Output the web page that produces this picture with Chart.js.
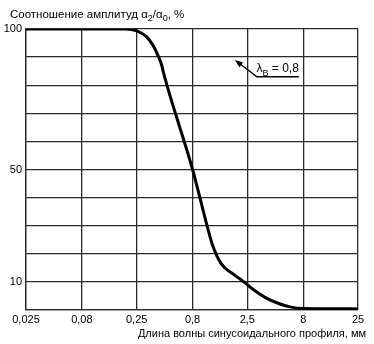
<!DOCTYPE html>
<html>
<head>
<meta charset="utf-8">
<script src="https://cdn.jsdelivr.net/npm/chart.js@4"></script>
<style>
  html, body { margin: 0; padding: 0; background: #fff; }
</style>
</head>
<body>
<canvas id="c" width="374" height="344"></canvas>
<script>
// Wavelength of the sinusoidal profile, mm
const waveLengths = [0.025, 0.2, 0.25, 0.308, 0.351, 0.389, 0.421, 0.435, 0.8, 1.09, 1.2, 1.444, 1.892, 2.33, 2.87, 3.68, 4.73, 6.07, 7.95, 25];
// Amplitude ratio a2/a0, %
const amplitudeRatio = [100, 100, 99.3, 97.2, 94.2, 90.6, 87.1, 84.7, 50, 29.5, 23.6, 16.6, 12.6, 10, 7.1, 4.3, 2.4, 1.1, 0.5, 0.4];

const xTickValues = [0.025, 0.08, 0.25, 0.8, 2.5, 8, 25];
const yTickLabels = [100, 50, 10];
const cutoffLabel = '0,8';

const FONT = '"Liberation Sans", Arial, sans-serif';
const INK = '#000';
const GRID = '#2a2a2a';

// draws text with subscript parts: [[text, isSub], ...]
function drawRich(ctx, parts, x, y, size, align) {
  const sub = Math.round(size * 0.78);
  let total = 0;
  parts.forEach(([t, s]) => {
    ctx.font = (s ? sub : size) + 'px ' + FONT;
    total += ctx.measureText(t).width;
  });
  let cx = align === 'right' ? x - total : x;
  ctx.textAlign = 'left';
  ctx.textBaseline = 'alphabetic';
  parts.forEach(([t, s]) => {
    ctx.font = (s ? sub : size) + 'px ' + FONT;
    ctx.fillText(t, cx, s ? y + size * 0.3 : y);
    cx += ctx.measureText(t).width;
  });
}

const labels = {
  id: 'labels',
  afterDraw(chart) {
    const { ctx, scales: { x, y } } = chart;
    ctx.save();
    ctx.fillStyle = INK;
    // axis titles
    drawRich(ctx, [['Соотношение амплитуд α', false], ['2', true], ['/α', false], ['0', true], [', %', false]], 10, 18, 11.5, 'left');
    ctx.font = '11px ' + FONT;
    ctx.textAlign = 'right';
    ctx.textBaseline = 'alphabetic';
    ctx.fillText('Длина волны синусоидального профиля, мм', 366, 337);

    // cutoff callout with leader arrow
    const tipX = x.getPixelForValue(1.93), tipY = y.getPixelForValue(89);
    const elbX = x.getPixelForValue(3.05), elbY = y.getPixelForValue(83);
    const endX = x.getPixelForValue(7.3);
    ctx.strokeStyle = INK;
    ctx.lineWidth = 1.3;
    ctx.beginPath();
    ctx.moveTo(tipX + 3, tipY + 2.3);
    ctx.lineTo(elbX, elbY);
    ctx.lineTo(endX, elbY);
    ctx.stroke();
    const ang = Math.atan2(elbY - tipY, elbX - tipX);
    const len = 8, half = 3;
    ctx.beginPath();
    ctx.moveTo(tipX, tipY);
    ctx.lineTo(tipX + len * Math.cos(ang) - half * Math.sin(ang), tipY + len * Math.sin(ang) + half * Math.cos(ang));
    ctx.lineTo(tipX + len * Math.cos(ang) + half * Math.sin(ang), tipY + len * Math.sin(ang) - half * Math.cos(ang));
    ctx.closePath();
    ctx.fill();
    drawRich(ctx, [['λ', false], ['B', true], [' = ' + cutoffLabel, false]], endX, elbY - 4.5, 12, 'right');
    ctx.restore();
  }
};

new Chart(document.getElementById('c'), {
  type: 'line',
  data: {
    labels: waveLengths,
    datasets: [{
      data: waveLengths.map((w, i) => ({ x: w, y: amplitudeRatio[i] })),
      borderColor: '#000',
      borderWidth: 3,
      pointRadius: 0,
      fill: false,
      cubicInterpolationMode: 'monotone',
      tension: 0.4
    }]
  },
  options: {
    responsive: false,
    animation: false,
    devicePixelRatio: 1,
    layout: { padding: { top: 29, right: 16, left: 0, bottom: 0 } },
    plugins: { legend: { display: false }, tooltip: { enabled: false } },
    scales: {
      x: {
        type: 'logarithmic',
        min: 0.025,
        max: 25,
        afterBuildTicks: (s) => { s.ticks = xTickValues.map(v => ({ value: v })); },
        afterFit: (s) => { s.height = 34; },
        ticks: {
          autoSkip: false,
          maxRotation: 0,
          padding: 3,
          color: INK,
          font: { family: FONT, size: 11 },
          callback: (v) => String(v).replace('.', ',')
        },
        grid: { color: GRID, lineWidth: 1.3, drawTicks: false },
        border: { color: GRID, width: 1.3 }
      },
      y: {
        min: 0,
        max: 100,
        afterFit: (s) => { s.width = 26; },
        ticks: {
          stepSize: 10,
          autoSkip: false,
          padding: 4,
          color: INK,
          font: { family: FONT, size: 11 },
          callback: (v) => yTickLabels.includes(v) ? String(v) : ''
        },
        grid: { color: GRID, lineWidth: 1.3, drawTicks: false },
        border: { color: GRID, width: 1.3 }
      }
    }
  },
  plugins: [labels]
});
</script>
</body>
</html>
